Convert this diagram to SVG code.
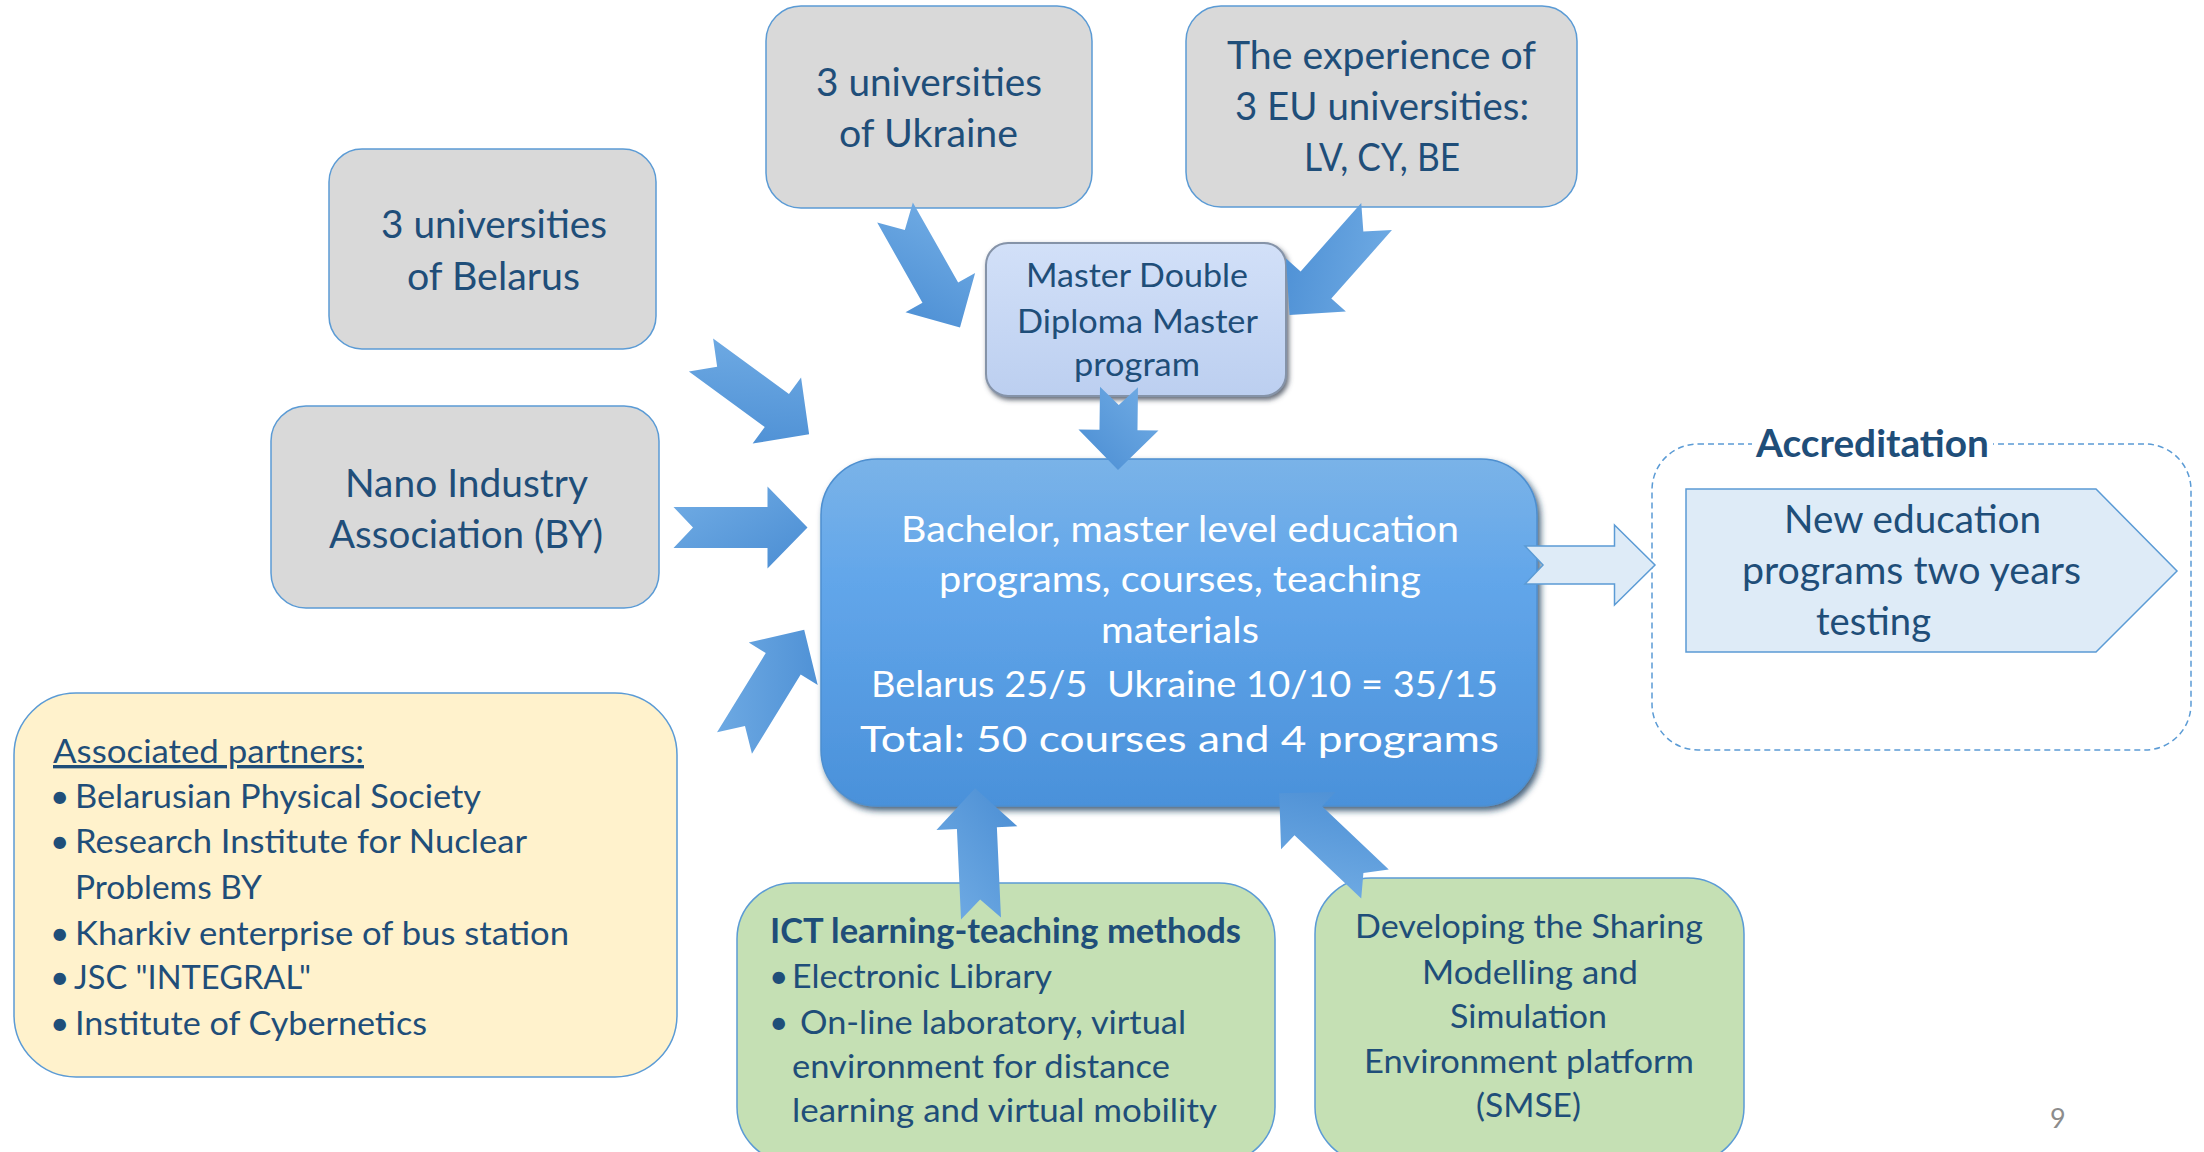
<svg xmlns="http://www.w3.org/2000/svg" width="2204" height="1152" viewBox="0 0 2204 1152">
<defs>
<linearGradient id="arrowGrad" x1="0" y1="0" x2="1" y2="1">
<stop offset="0" stop-color="#72ade5"/>
<stop offset="1" stop-color="#4a8dd3"/>
</linearGradient>
<linearGradient id="mainGrad" x1="0" y1="0" x2="0" y2="1">
<stop offset="0" stop-color="#7ab3e8"/>
<stop offset="0.35" stop-color="#62a6ea"/>
<stop offset="1" stop-color="#4a91da"/>
</linearGradient>
<linearGradient id="masterGrad" x1="0" y1="0" x2="0" y2="1">
<stop offset="0" stop-color="#d2e0f8"/>
<stop offset="1" stop-color="#bccff0"/>
</linearGradient>
<filter id="shadowDark" x="-10%" y="-10%" width="125%" height="130%">
<feDropShadow dx="3" dy="4" stdDeviation="3" flood-color="#1c3a5a" flood-opacity="0.8"/>
</filter>
<filter id="shadowGray" x="-10%" y="-10%" width="125%" height="130%">
<feDropShadow dx="2" dy="3" stdDeviation="2.5" flood-color="#3c4656" flood-opacity="0.8"/>
</filter>
</defs>
<style>
.gray{fill:#d9d9d9;stroke:#5b9bd5;stroke-width:1.5}
.yellow{fill:#fff2cc;stroke:#5b9bd5;stroke-width:1.5}
.green{fill:#c5e0b4;stroke:#5b9bd5;stroke-width:1.5}
.t{font-family:Lato,"Open Sans","Liberation Sans",sans-serif;fill:#1f4e79}
.big{font-size:38px}
.mid{font-size:33.5px}
.w{font-family:Lato,"Open Sans","Liberation Sans",sans-serif;fill:#ffffff;font-size:36.5px;white-space:pre}
.b{font-weight:bold}
.arrow{fill:url(#arrowGrad)}
.hollow{fill:#deebf7;stroke:#5b9bd5;stroke-width:1.5}
</style>
<rect width="2204" height="1152" fill="#ffffff"/>

<g id="ukraine">
<rect class="gray" x="766" y="6" width="326" height="202" rx="35"/>
<text class="t big" x="816" y="96" textLength="226" lengthAdjust="spacingAndGlyphs">3 universities</text>
<text class="t big" x="839" y="147" textLength="179" lengthAdjust="spacingAndGlyphs">of Ukraine</text>
</g>

<g id="eu">
<rect class="gray" x="1186" y="6" width="391" height="201" rx="35"/>
<text class="t big" x="1227" y="69" textLength="309" lengthAdjust="spacingAndGlyphs">The experience of</text>
<text class="t big" x="1235" y="120" textLength="294" lengthAdjust="spacingAndGlyphs">3 EU universities:</text>
<text class="t big" x="1304" y="171" textLength="156" lengthAdjust="spacingAndGlyphs">LV, CY, BE</text>
</g>

<g id="belarus">
<rect class="gray" x="329" y="149" width="327" height="200" rx="33"/>
<text class="t big" x="381" y="238" textLength="226" lengthAdjust="spacingAndGlyphs">3 universities</text>
<text class="t big" x="407" y="290" textLength="173" lengthAdjust="spacingAndGlyphs">of Belarus</text>
</g>

<g id="nano">
<rect class="gray" x="271" y="406" width="388" height="202" rx="35"/>
<text class="t big" x="345" y="497" textLength="243" lengthAdjust="spacingAndGlyphs">Nano Industry</text>
<text class="t big" x="329" y="548" textLength="274" lengthAdjust="spacingAndGlyphs">Association (BY)</text>
</g>

<g id="associated">
<rect class="yellow" x="14" y="693" width="663" height="384" rx="62"/>
<text class="t mid" x="53" y="763" textLength="311" lengthAdjust="spacingAndGlyphs" text-decoration="underline">Associated partners:</text>
<text class="t mid" x="50" y="808">•</text>
<text class="t mid" x="75" y="808" textLength="406" lengthAdjust="spacingAndGlyphs">Belarusian Physical Society</text>
<text class="t mid" x="50" y="853">•</text>
<text class="t mid" x="75" y="853" textLength="452" lengthAdjust="spacingAndGlyphs">Research Institute for Nuclear</text>
<text class="t mid" x="75" y="899" textLength="187" lengthAdjust="spacingAndGlyphs">Problems BY</text>
<text class="t mid" x="50" y="945">•</text>
<text class="t mid" x="75" y="945" textLength="494" lengthAdjust="spacingAndGlyphs">Kharkiv enterprise of bus station</text>
<text class="t mid" x="50" y="989">•</text>
<text class="t mid" x="74" y="989" textLength="237" lengthAdjust="spacingAndGlyphs">JSC "INTEGRAL"</text>
<text class="t mid" x="50" y="1035">•</text>
<text class="t mid" x="75" y="1035" textLength="352" lengthAdjust="spacingAndGlyphs">Institute of Cybernetics</text>
</g>

<g id="master">
<rect x="986" y="243" width="300" height="153" rx="22" fill="url(#masterGrad)" stroke="#8593a8" stroke-width="2" filter="url(#shadowGray)"/>
<text class="t" font-size="33" x="1026" y="287" textLength="222" lengthAdjust="spacingAndGlyphs">Master Double</text>
<text class="t" font-size="33" x="1017" y="333" textLength="241" lengthAdjust="spacingAndGlyphs">Diploma Master</text>
<text class="t" font-size="33" x="1074" y="376" textLength="126" lengthAdjust="spacingAndGlyphs">program</text>
</g>

<g id="main">
<rect x="821" y="459" width="716" height="347" rx="56" fill="url(#mainGrad)" stroke="#4d8fd0" stroke-width="1.5" filter="url(#shadowDark)"/>
<text class="w" x="901" y="542" textLength="558" lengthAdjust="spacingAndGlyphs">Bachelor, master level education</text>
<text class="w" x="939" y="592" textLength="482" lengthAdjust="spacingAndGlyphs">programs, courses, teaching</text>
<text class="w" x="1101" y="643" textLength="158" lengthAdjust="spacingAndGlyphs">materials</text>
<text class="w" x="871" y="697" textLength="627" lengthAdjust="spacingAndGlyphs">Belarus 25/5  Ukraine 10/10 = 35/15</text>
<text class="w" font-size="41" x="860" y="752" textLength="639" lengthAdjust="spacingAndGlyphs">Total: 50 courses and 4 programs</text>
</g>

<g id="accreditation">
<rect x="1652" y="444" width="539" height="306" rx="46" fill="none" stroke="#5b9bd5" stroke-width="1.5" stroke-dasharray="6 4"/>
<rect x="1752" y="430" width="241" height="30" fill="#ffffff"/>
<text class="t b" font-size="38" x="1756" y="457" textLength="233" lengthAdjust="spacingAndGlyphs">Accreditation</text>
</g>

<g id="new-programs">
<polygon points="1686,489 2096,489 2177,571 2096,652 1686,652" fill="#deebf7" stroke="#5b9bd5" stroke-width="1.5"/>
<text class="t big" x="1784" y="533" textLength="257" lengthAdjust="spacingAndGlyphs">New education</text>
<text class="t big" x="1742" y="584" textLength="339" lengthAdjust="spacingAndGlyphs">programs two years</text>
<text class="t big" x="1816" y="635" textLength="115" lengthAdjust="spacingAndGlyphs">testing</text>
</g>

<g id="ict">
<rect class="green" x="737" y="883" width="538" height="280" rx="56"/>
<text class="t mid b" x="770" y="943" textLength="471" lengthAdjust="spacingAndGlyphs">ICT learning-teaching methods</text>
<text class="t mid" x="769" y="988">•</text>
<text class="t mid" x="792" y="988" textLength="260" lengthAdjust="spacingAndGlyphs">Electronic Library</text>
<text class="t mid" x="769" y="1034">•</text>
<text class="t mid" x="800" y="1034" textLength="386" lengthAdjust="spacingAndGlyphs">On-line laboratory, virtual</text>
<text class="t mid" x="792" y="1078" textLength="378" lengthAdjust="spacingAndGlyphs">environment for distance</text>
<text class="t mid" x="792" y="1122" textLength="425" lengthAdjust="spacingAndGlyphs">learning and virtual mobility</text>
</g>

<g id="smse">
<rect class="green" x="1315" y="878" width="429" height="285" rx="56"/>
<text class="t mid" x="1355" y="938" textLength="348" lengthAdjust="spacingAndGlyphs">Developing the Sharing</text>
<text class="t mid" x="1422" y="984" textLength="216" lengthAdjust="spacingAndGlyphs">Modelling and</text>
<text class="t mid" x="1450" y="1028" textLength="157" lengthAdjust="spacingAndGlyphs">Simulation</text>
<text class="t mid" x="1364" y="1073" textLength="330" lengthAdjust="spacingAndGlyphs">Environment platform</text>
<text class="t mid" x="1476" y="1117" textLength="105" lengthAdjust="spacingAndGlyphs">(SMSE)</text>
</g>

<g id="connectors">
<path class="arrow" transform="translate(895,212.5) rotate(60.5)" d="M0,-20.5 L92,-20.5 L92,-40 L132,0 L92,40 L92,20.5 L0,20.5 L20,0 Z"/>
<path class="arrow" transform="translate(1376.6,216.5) rotate(131.5)" d="M0,-20.5 L91.5,-20.5 L91.5,-40 L131.5,0 L91.5,40 L91.5,20.5 L0,20.5 L20,0 Z"/>
<path class="arrow" transform="translate(1119,387) rotate(90.7)" d="M0,-19 L43,-19 L43,-40 L83,0 L43,40 L43,19 L0,19 L18,0 Z"/>
<path class="arrow" transform="translate(701,355) rotate(36.2)" d="M0,-20.5 L94,-20.5 L94,-41 L134,0 L94,41 L94,20.5 L0,20.5 L20,0 Z"/>
<path class="arrow" transform="translate(673.5,527.5)" d="M0,-20.5 L94,-20.5 L94,-41 L134,0 L94,41 L94,20.5 L0,20.5 L19.5,0 Z"/>
<path class="arrow" transform="translate(734.5,743) rotate(-58.4)" d="M0,-20.5 L93,-20.5 L93,-40.5 L133,0 L93,40.5 L93,20.5 L0,20.5 L20,0 Z"/>
<path class="arrow" transform="translate(981,918.5) rotate(-92.6)" d="M0,-20 L90.5,-20 L90.5,-40.5 L130.5,0 L90.5,40.5 L90.5,20 L0,20 L19,0 Z"/>
<path class="arrow" transform="translate(1375,884) rotate(-136.5)" d="M0,-20 L92,-20 L92,-39.5 L132,0 L92,39.5 L92,20 L0,20 L16,0 Z"/>
<path class="hollow" transform="translate(1525,565)" d="M0,-19 L89.5,-19 L89.5,-40 L130,0 L89.5,40 L89.5,19 L0,19 L18,0 Z"/>
</g>

<text x="2050" y="1128" font-family="Lato,'Liberation Sans',sans-serif" font-size="27" fill="#8c8c8c">9</text>
</svg>
